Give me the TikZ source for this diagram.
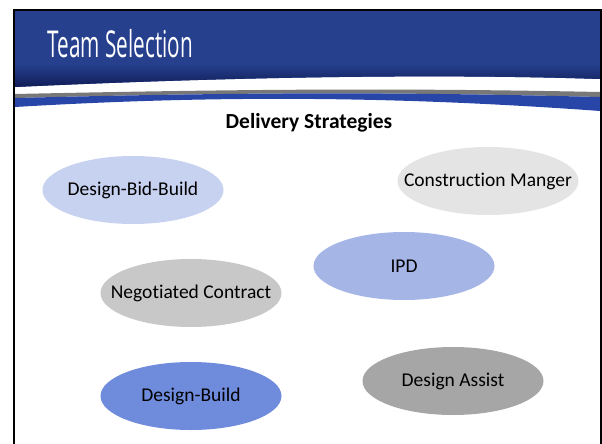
\documentclass[tikz,border=0pt]{standalone}
\usepackage{fontspec}
\setmainfont[Ligatures=NoCommon]{Carlito}
\newfontfamily\titlefont[FakeStretch=0.56]{Open Sans}
\usepackage{tikz}
\usetikzlibrary{shapes.geometric}

\definecolor{hblue}{RGB}{38,64,142}
\definecolor{hnavy}{RGB}{16,28,86}
\definecolor{bandblue}{RGB}{40,70,168}
\definecolor{lineg}{RGB}{120,120,120}
\definecolor{dbb}{RGB}{199,209,240}
\definecolor{cmg}{RGB}{228,228,228}
\definecolor{ipd}{RGB}{164,181,230}
\definecolor{ncg}{RGB}{200,200,200}
\definecolor{db}{RGB}{111,139,220}
\definecolor{dag}{RGB}{166,166,166}

\newcommand{\stxt}[1]{\makebox[0pt]{#1}}

\tikzset{
  strat/.style={ellipse, inner sep=0pt, minimum width=181pt, minimum height=68pt,
    font=\fontsize{19.5}{22}\selectfont},
}

\begin{document}
\begin{tikzpicture}[x=1pt,y=-1pt]
\useasboundingbox (0,0) rectangle (602,444);

\fill[hblue] (15,11) -- (600,11) -- (600,79) .. controls (450,74) and (250,76) .. (15,87) -- cycle;
\shade[top color=hblue, bottom color=hnavy] (15,64) -- (600,64) -- (600,79) .. controls (450,74) and (250,76) .. (15,87) -- cycle;
\fill[lineg] (15,94) .. controls (250,89) and (400,88) .. (600,92) -- (600,97) .. controls (400,92) and (250,92) .. (15,98) -- cycle;
\fill[bandblue] (15,98) .. controls (250,92) and (400,92) .. (600,97) -- (600,111) .. controls (380,95) and (200,96) .. (15,107) -- cycle;
\draw[line width=2pt] (14,444) -- (14,10) -- (601,10) -- (601,444);

\node[anchor=base west, text=white, font=\titlefont\fontsize{37}{42}\selectfont] (title) at (44,57) {Team Selection};
\node[anchor=base, font=\bfseries\fontsize{21.5}{24}\selectfont] (head) at (309,128) {Delivery Strategies};

\node[strat, fill=dbb] (dbbnode) at (133,190) {\stxt{Design-Bid-Build}};
\node[strat, fill=cmg] (cm) at (488,181) {\stxt{Construction Manger}};
\node[strat, fill=ipd] (ipdnode) at (404,266) {\stxt{IPD}};
\node[strat, fill=ncg] (nc) at (191,293) {\stxt{Negotiated Contract}};
\node[strat, fill=db] (dbnode) at (191,396) {\stxt{Design-Build}};
\node[strat, fill=dag] (da) at (453,381) {\stxt{Design Assist}};
\end{tikzpicture}
\end{document}
